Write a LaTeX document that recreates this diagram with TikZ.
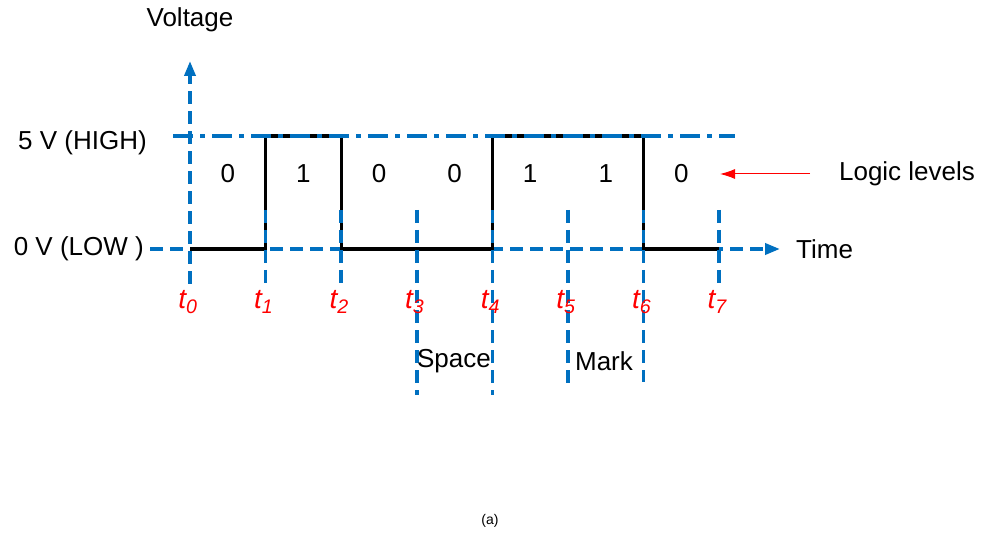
\documentclass[tikz,border=0pt]{standalone}
\usepackage{fontspec}
\setmainfont{Liberation Sans}
\usetikzlibrary{arrows.meta}
\definecolor{axblue}{RGB}{0,112,192}
\definecolor{tred}{RGB}{255,0,0}
\begin{document}
\begin{tikzpicture}[x=1pt,y=-1pt,
  lbl/.style={font=\fontsize{26}{30}\selectfont, inner sep=0pt},
  tlbl/.style={font=\fontsize{28}{31}\selectfont\itshape, text=tred, inner sep=0pt},
  bdash/.style={draw=axblue, line width=3.6pt, dash pattern=on 13pt off 7pt},
  bdashdot/.style={draw=axblue, line width=3.6pt, dash pattern=on 20pt off 7pt on 5pt off 7pt},
  sig/.style={draw=black, line width=3.2pt, line join=miter},
  btip/.style={-{Triangle[length=15pt,width=11pt]}}]
\useasboundingbox (0,0) rectangle (984,534);
\fill[white] (0,0) rectangle (984,534);
% time coordinates
\foreach \i in {0,...,7}{
  \coordinate (L\i) at ({190+75.6*\i},249);
  \coordinate (H\i) at ({190+75.6*\i},136);
  \coordinate (T\i) at ({190+75.6*\i},210);
}
\coordinate (ax0) at (190,284);
\coordinate (ax1) at (190,61);
\coordinate (tx0) at (150,249);
\coordinate (tx1) at (780,249);
\coordinate (hx0) at (173,136);
\coordinate (hx1) at (735,136);
% low axis
\draw[bdash, btip] (tx0) -- (tx1);
% signal
\draw[sig] (L0) -- (L1) -- (H1) -- (H2) -- (L2) -- (L4) -- (H4) -- (H6) -- (L6) -- (L7);
% high level
\draw[bdashdot] (hx0) -- (hx1);
% voltage axis
\draw[bdash, btip] (ax0) -- (ax1);
% vertical time markers
\foreach \i/\e in {1/287,2/287,3/395,4/395,5/388,6/382,7/287}{
  \coordinate (B\i) at ({190+75.6*\i},\e);
  \draw[bdash] (T\i) -- (B\i);
}
% time labels
\foreach \i in {0,...,7}{
  \node[tlbl] (tl\i) at ({188+75.6*\i},302) {t\textsubscript{\i}};
}
% bit values
\foreach \i/\b in {0/0,1/1,2/0,3/0,4/1,5/1,6/0}{
  \node[lbl] (bit\i) at ({190+75.6*\i+37.8},174) {\b};
}
% texts
\node[lbl] (volt) at (190,20) {Voltage};
\node[lbl, anchor=east] (high) at (147,143) {5 V (HIGH)};
\node[lbl, anchor=east] (low) at (144,249) {0 V (LOW )};
\node[lbl, anchor=west] (time) at (796,249) {Time};
\node[lbl] (logic) at (907,174) {Logic levels};
\node[lbl] (space) at (454,361) {Space};
\node[lbl] (mark) at (604,361) {Mark};
\node[font=\fontsize{14}{16}\selectfont, inner sep=0pt] (cap) at (490,521) {(a)};
% logic level arrow
\coordinate (la0) at (810,174);
\coordinate (la1) at (720,174);
\draw[draw=tred, line width=1pt, -{Latex[length=15pt,width=10pt]}] (la0) -- (la1);
\end{tikzpicture}
\end{document}
